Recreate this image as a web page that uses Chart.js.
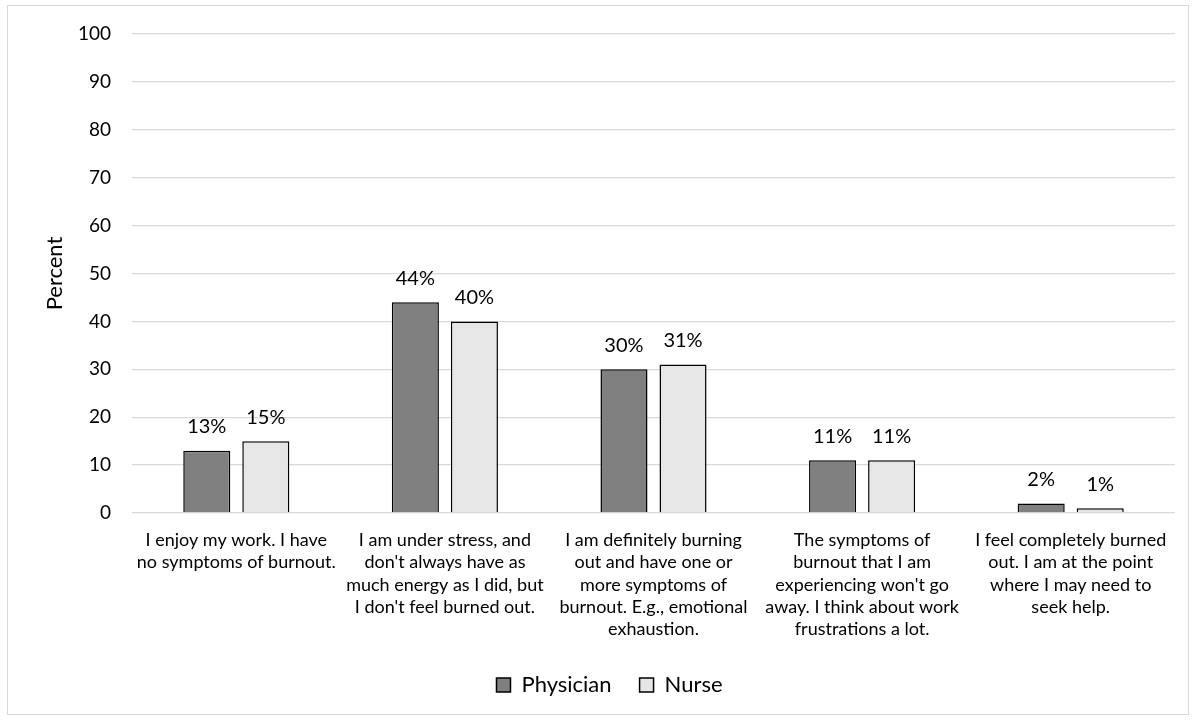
<!DOCTYPE html>
<html>
<head>
<meta charset="utf-8">
<script src="https://cdn.jsdelivr.net/npm/chart.js@4"></script>
<style>
  html, body { margin: 0; padding: 0; background: #fff; }
  #frame { position: absolute; left: 7px; top: 5px; width: 1180px; height: 708px; border: 1px solid #d9d9d9; }
  canvas { display: block; }
</style>
</head>
<body>
<div id="frame"><canvas id="c" width="1180" height="708"></canvas></div>
<script>
const categories = [
  ["I enjoy my work. I have", "no symptoms of burnout."],
  ["I am under stress, and", "don't always have as", "much energy as I did, but", "I don't feel burned out."],
  ["I am definitely burning", "out and have one or", "more symptoms of", "burnout. E.g., emotional", "exhaustion."],
  ["The symptoms of", "burnout that I am", "experiencing won't go", "away. I think about work", "frustrations a lot."],
  ["I feel completely burned", "out. I am at the point", "where I may need to", "seek help."]
];
const physician = [13, 44, 30, 11, 2];
const nurse = [15, 40, 31, 11, 1];
const yTicks = [0, 10, 20, 30, 40, 50, 60, 70, 80, 90, 100];

const FONT = "Lato, 'Liberation Sans', sans-serif";

const labelPlugin = {
  id: 'valueLabels',
  afterLayout(chart) {
    if (chart.legend) { chart.legend.left += 18; chart.legend.right += 18; }
  },
  afterDatasetsDraw(chart) {
    const ctx = chart.ctx;
    ctx.save();
    ctx.font = "20px " + FONT;
    ctx.fillStyle = '#000';
    ctx.textAlign = 'center';
    ctx.textBaseline = 'middle';
    chart.data.datasets.forEach((ds, i) => {
      chart.getDatasetMeta(i).data.forEach((bar, j) => {
        ctx.fillText(ds.data[j] + '%', bar.x, bar.y - 24);
      });
    });
    ctx.restore();
  }
};

new Chart(document.getElementById('c'), {
  type: 'bar',
  data: {
    labels: categories,
    datasets: [
      { label: 'Physician', data: physician, backgroundColor: '#808080', borderColor: '#000', borderWidth: 1.5,
        categoryPercentage: 0.566, barPercentage: 0.797 },
      { label: 'Nurse', data: nurse, backgroundColor: '#e7e6e6', borderColor: '#000', borderWidth: 1.5,
        categoryPercentage: 0.566, barPercentage: 0.797 }
    ]
  },
  options: {
    responsive: false,
    animation: false,
    layout: { padding: { top: 28, right: 13, bottom: 8, left: 0 } },
    plugins: {
      legend: {
        position: 'bottom',
        labels: {
          font: { size: 22, family: FONT }, color: '#000',
          boxWidth: 14, boxHeight: 14, padding: 28
        }
      },
      tooltip: { enabled: false }
    },
    scales: {
      x: {
        grid: { display: false },
        border: { display: false },
        ticks: { font: { size: 18, family: FONT, lineHeight: 1.24 }, color: '#000', maxRotation: 0, autoSkip: false, padding: 8 },
        afterFit(s) { s.height = 133; }
      },
      y: {
        min: 0, max: 100,
        afterBuildTicks(s) { s.ticks = yTicks.map(v => ({ value: v })); },
        grid: { color: '#d9d9d9', lineWidth: 1.3, drawTicks: false },
        border: { display: false },
        ticks: { font: { size: 19, family: FONT }, color: '#000', padding: 21 },
        title: { display: true, text: 'Percent', font: { size: 22, family: FONT }, color: '#000', padding: { top: 34 } },
        afterFit(s) { s.width = 124; s.paddingTop = 0; s.paddingBottom = 0; }
      }
    }
  },
  plugins: [labelPlugin]
});
</script>
</body>
</html>
